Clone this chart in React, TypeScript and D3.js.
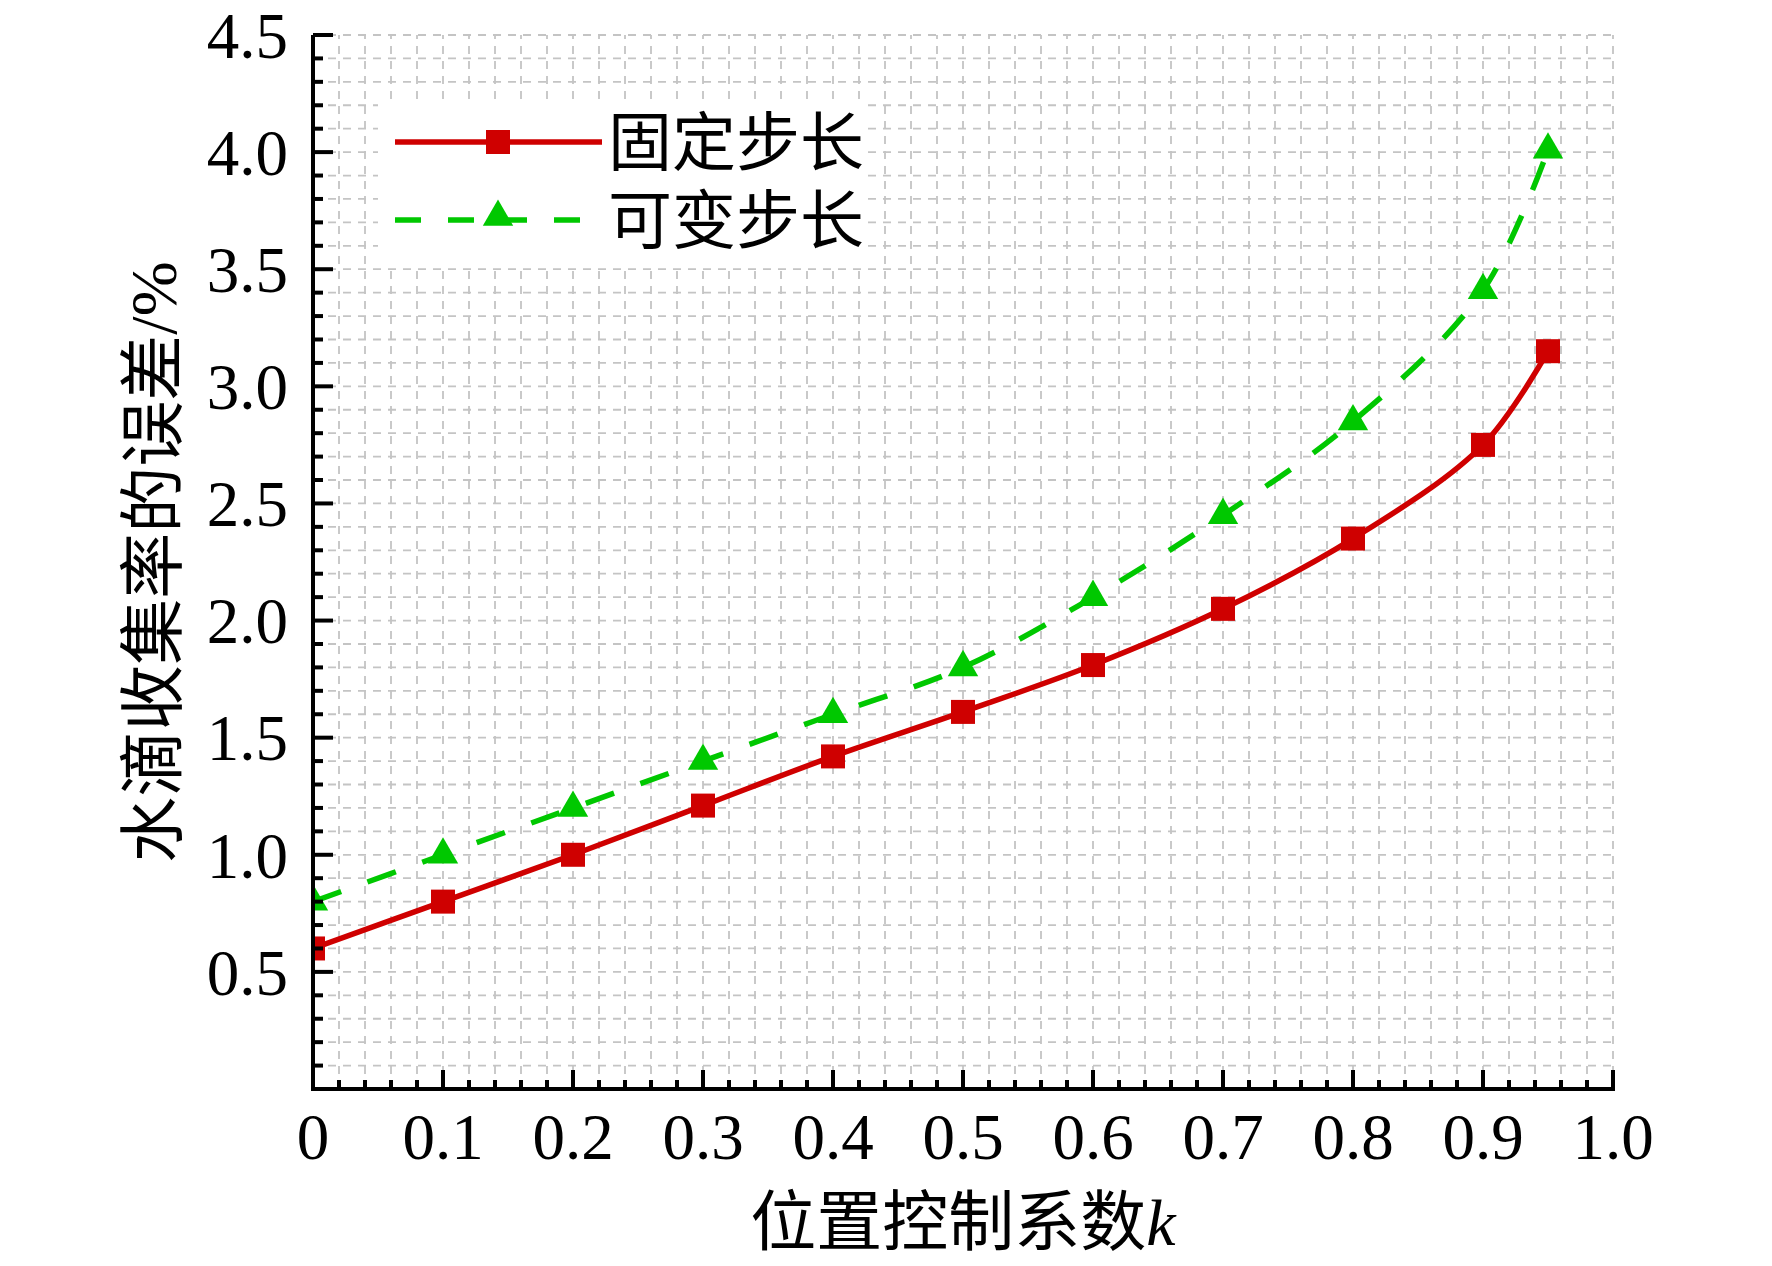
import { useEffect, useRef } from "react";
import * as d3 from "d3";

// position control coefficient k
const kValues = [0, 0.1, 0.2, 0.3, 0.4, 0.5, 0.6, 0.7, 0.8, 0.9, 0.95];
// error of droplet collection rate (%)
const fixedStep = [0.6, 0.8, 1.0, 1.21, 1.42, 1.61, 1.81, 2.05, 2.35, 2.75, 3.15];
const variableStep = [0.8, 1.0, 1.2, 1.4, 1.6, 1.8, 2.1, 2.45, 2.85, 3.41, 4.01];

const seriesNames = ["固定步长", "可变步长"];
const xTickLabels = ["0", "0.1", "0.2", "0.3", "0.4", "0.5", "0.6", "0.7", "0.8", "0.9", "1.0"];
const yTickLabels = ["0.5", "1.0", "1.5", "2.0", "2.5", "3.0", "3.5", "4.0", "4.5"];
const xLabel = "位置控制系数";
const yLabel = "水滴收集率的误差/%";

const WIDTH = 1772;
const HEIGHT = 1266;
const RED = "#cf0000";
const GREEN = "#00c800";
const FONT = "'Liberation Serif', 'Noto Sans CJK SC', serif";

export default function App() {
  const svgRef = useRef<SVGSVGElement>(null);

  useEffect(() => {
    if (!svgRef.current) return;
    const root = d3.select(svgRef.current);
    root.selectAll("*").remove();

    const x = d3.scaleLinear().domain([0, 1]).range([313, 1613]);
    const y = d3.scaleLinear().domain([0, 4.5]).range([1089, 35]);
    const [x0, x1] = x.range();
    const [y0, y1] = y.range();

    root.append("rect").attr("width", WIDTH).attr("height", HEIGHT).attr("fill", "#fff");

    // dashed grid at every minor tick
    const xMinor = d3.range(0, 51).map((i) => i / 50);
    const yMinor = d3.range(0, 46).map((i) => i / 10);
    const grid = root.append("g").attr("stroke", "#c4c4c4").attr("stroke-width", 1.8).attr("stroke-dasharray", "8 7");
    grid
      .selectAll(".vg")
      .data(xMinor.slice(1))
      .enter()
      .append("line")
      .attr("x1", (d) => x(d))
      .attr("x2", (d) => x(d))
      .attr("y1", y0)
      .attr("y2", y1);
    grid
      .selectAll(".hg")
      .data(yMinor.slice(1))
      .enter()
      .append("line")
      .attr("x1", x0)
      .attr("x2", x1)
      .attr("y1", (d) => y(d))
      .attr("y2", (d) => y(d));

    // legend background hides the grid
    root.append("rect").attr("x", 378).attr("y", 100).attr("width", 490).attr("height", 168).attr("fill", "#fff");

    // clip data to plot area
    root
      .append("clipPath")
      .attr("id", "plot-clip")
      .append("rect")
      .attr("x", x0)
      .attr("y", y1)
      .attr("width", x1 - x0)
      .attr("height", y0 - y1);
    const plot = root.append("g").attr("clip-path", "url(#plot-clip)");

    const line = d3
      .line<number>()
      .x((_, i) => x(kValues[i]))
      .y((d) => y(d))
      .curve(d3.curveCatmullRom.alpha(0.5));

    plot
      .append("path")
      .datum(variableStep)
      .attr("fill", "none")
      .attr("stroke", GREEN)
      .attr("stroke-width", 5.5)
      .attr("stroke-dasharray", "30 28")
      .attr("d", line);

    plot
      .append("path")
      .datum(fixedStep)
      .attr("fill", "none")
      .attr("stroke", RED)
      .attr("stroke-width", 5.5)
      .attr("d", line);

    const tri = d3.symbol().type(d3.symbolTriangle).size(400);
    plot
      .selectAll(".tri")
      .data(variableStep)
      .enter()
      .append("path")
      .attr("d", tri)
      .attr("transform", (d, i) => `translate(${x(kValues[i])},${y(d)})`)
      .attr("fill", GREEN);

    plot
      .selectAll(".sq")
      .data(fixedStep)
      .enter()
      .append("rect")
      .attr("x", (_, i) => x(kValues[i]) - 12)
      .attr("y", (d) => y(d) - 12)
      .attr("width", 24)
      .attr("height", 24)
      .attr("fill", RED);

    // axes
    const axis = root.append("g").attr("stroke", "#000").attr("stroke-width", 4);
    axis.append("line").attr("x1", x0).attr("x2", x0).attr("y1", y0 + 2).attr("y2", y1);
    axis.append("line").attr("x1", x0 - 2).attr("x2", x1 + 2).attr("y1", y0).attr("y2", y0);
    axis
      .selectAll(".xt")
      .data(xMinor)
      .enter()
      .append("line")
      .attr("x1", (d) => x(d))
      .attr("x2", (d) => x(d))
      .attr("y1", y0)
      .attr("y2", (_, i) => y0 - (i % 5 === 0 ? 19 : 9));
    axis
      .selectAll(".yt")
      .data(yMinor)
      .enter()
      .append("line")
      .attr("x1", x0)
      .attr("x2", (_, i) => x0 + (i % 5 === 0 ? 20 : 10))
      .attr("y1", (d) => y(d))
      .attr("y2", (d) => y(d));

    // tick labels
    root
      .append("g")
      .selectAll("text")
      .data(xTickLabels)
      .enter()
      .append("text")
      .attr("x", (d) => x(+d))
      .attr("y", 1159)
      .attr("text-anchor", "middle")
      .attr("font-family", FONT)
      .attr("font-size", 65)
      .text((d) => d);

    root
      .append("g")
      .selectAll("text")
      .data(yTickLabels)
      .enter()
      .append("text")
      .attr("x", 288)
      .attr("y", (d) => y(+d))
      .attr("dy", "0.35em")
      .attr("text-anchor", "end")
      .attr("font-family", FONT)
      .attr("font-size", 65)
      .text((d) => d);

    // axis titles
    const xt = root
      .append("text")
      .attr("x", (x0 + x1) / 2)
      .attr("y", 1245)
      .attr("text-anchor", "middle")
      .attr("font-family", FONT)
      .attr("font-size", 66);
    xt.append("tspan").text(xLabel);
    xt.append("tspan").attr("font-style", "italic").text("k");

    root
      .append("text")
      .attr("transform", `translate(176,${(y0 + y1) / 2}) rotate(-90)`)
      .attr("text-anchor", "middle")
      .attr("font-family", FONT)
      .attr("font-size", 66)
      .text(yLabel);

    // legend
    const legend = root.append("g");
    legend.append("line").attr("x1", 395).attr("x2", 602).attr("y1", 142).attr("y2", 142).attr("stroke", RED).attr("stroke-width", 5.5);
    legend.append("rect").attr("x", 486).attr("y", 130).attr("width", 24).attr("height", 24).attr("fill", RED);
    legend
      .append("line")
      .attr("x1", 395)
      .attr("x2", 582)
      .attr("y1", 220)
      .attr("y2", 220)
      .attr("stroke", GREEN)
      .attr("stroke-width", 5.5)
      .attr("stroke-dasharray", "26 27");
    legend.append("path").attr("d", tri).attr("transform", "translate(498,217)").attr("fill", GREEN);
    seriesNames.forEach((name, i) => {
      legend
        .append("text")
        .attr("x", 608)
        .attr("y", 165 + i * 78)
        .attr("font-family", FONT)
        .attr("font-size", 64)
        .text(name);
    });
  }, []);

  return (
    <svg
      ref={svgRef}
      width={WIDTH}
      height={HEIGHT}
      style={{ position: "absolute", left: 0, top: 0, display: "block" }}
    />
  );
}
